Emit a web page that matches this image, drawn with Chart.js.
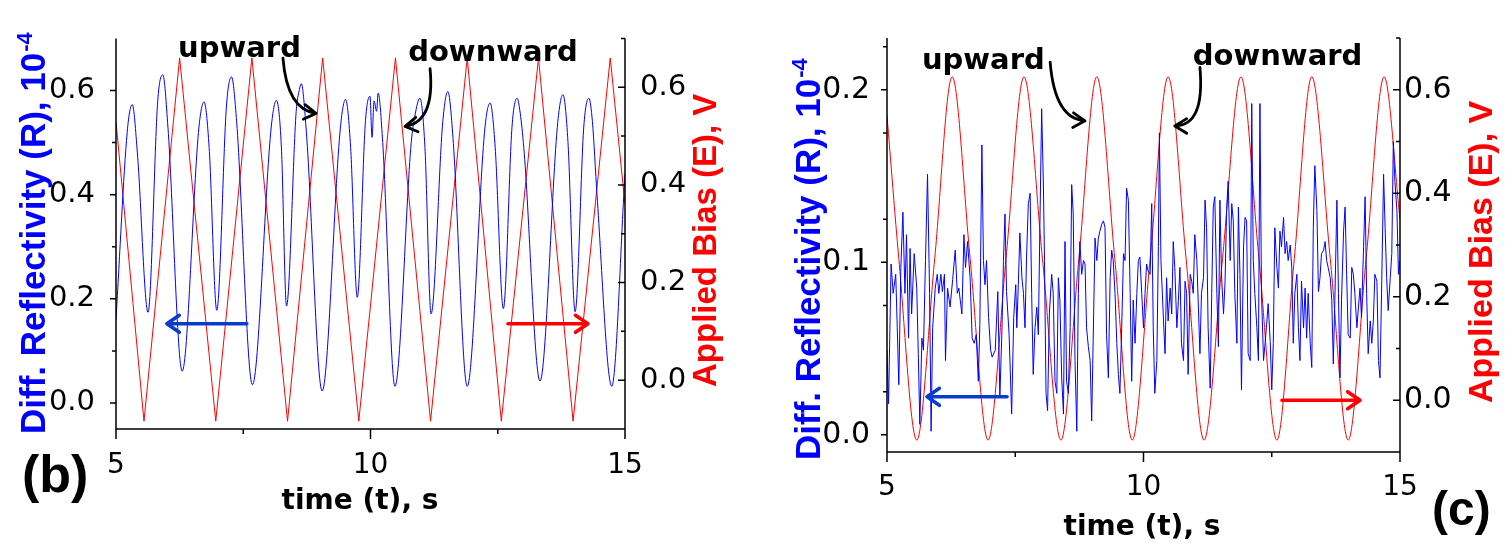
<!DOCTYPE html>
<html>
<head>
<meta charset="utf-8">
<script src="https://cdn.jsdelivr.net/npm/chart.js@4.4.0/dist/chart.umd.min.js"></script>
<style>
    html, body { margin: 0; padding: 0; background: #fff; overflow: hidden; }
    #wrap { position: relative; width: 1507px; height: 543px; }
    canvas { position: absolute; top: 0; }
    #chartB { left: 0; }
    #chartC { left: 750px; }
</style>
</head>
<body>
<div id="wrap">
    <canvas id="chartB" width="750" height="543"></canvas>
    <canvas id="chartC" width="757" height="543"></canvas>
</div>
<script>
// Axis ticks
const timeTicks = [5, 10, 15];
const timeMinor = [7.5, 12.5];
const reflTicksB = [0.0, 0.2, 0.4, 0.6];
const reflMinorB = [0.1, 0.3, 0.5];
const reflTicksC = [0.0, 0.1, 0.2];
const reflMinorC = [0.025, 0.075, 0.125, 0.175, 0.225];
const biasTicks = [0.0, 0.2, 0.4, 0.6];
const biasMinor = [0.1, 0.3, 0.5, 0.7];

// Panel (b): [time s, value]
const reflB = [
    [5.00,0.16],
    [5.22,0.52],[5.32,0.573],[5.42,0.48],
    [5.63,0.174],
    [5.82,0.58],[5.92,0.630],[6.02,0.53],
    [6.30,0.061],
    [6.63,0.53],[6.73,0.578],[6.83,0.49],
    [6.98,0.178],
    [7.17,0.57],[7.27,0.626],[7.37,0.54],
    [7.68,0.035],
    [8.05,0.53],[8.15,0.581],[8.25,0.49],
    [8.35,0.186],
    [8.54,0.56],[8.60,0.60],[8.64,0.613],[8.74,0.52],
    [9.05,0.023],
    [9.41,0.53],[9.51,0.583],[9.61,0.49],
    [9.74,0.203],
    [9.90,0.54],[9.99,0.589],[10.03,0.51],[10.07,0.58],[10.12,0.56],[10.15,0.595],[10.24,0.50],
    [10.48,0.032],
    [10.80,0.50],[10.87,0.55],[10.97,0.585],[11.07,0.49],
    [11.19,0.171],
    [11.42,0.54],[11.52,0.598],[11.62,0.51],
    [11.90,0.032],
    [12.25,0.53],[12.35,0.576],[12.45,0.49],
    [12.61,0.181],
    [12.78,0.53],[12.88,0.585],[12.95,0.55],[13.02,0.48],
    [13.33,0.042],
    [13.68,0.54],[13.78,0.592],[13.88,0.50],
    [14.02,0.175],
    [14.19,0.53],[14.29,0.585],[14.36,0.54],[14.45,0.40],
    [14.74,0.032],
    [15.00,0.44]
];
const biasB = [
    [5.00,0.53],[5.55,-0.084],[6.25,0.66],[6.96,-0.084],[7.67,0.66],[8.37,-0.084],
    [9.06,0.66],[9.77,-0.084],[10.49,0.66],[11.18,-0.084],[11.90,0.66],[12.57,-0.084],
    [13.30,0.66],[13.98,-0.084],[14.71,0.66],[15.00,0.36]
];

// Panel (c): [time s, value]
const reflC = [
    [5.00,0.049],[5.03,0.018],[5.08,0.099],[5.12,0.082],[5.17,0.093],[5.20,0.062],[5.23,0.029],[5.27,0.097],
    [5.31,0.129],[5.35,0.082],[5.38,0.116],[5.42,0.056],[5.45,0.108],[5.48,0.070],[5.53,0.105],[5.58,0.085],
    [5.61,0.047],[5.64,0.006],[5.68,0.056],[5.71,0.049],[5.75,0.101],[5.79,0.151],[5.83,0.082],[5.86,0.002],
    [5.89,0.062],[5.94,0.085],[5.98,0.093],[6.01,0.082],[6.05,0.093],[6.08,0.083],[6.12,0.093],[6.14,0.043],
    [6.18,0.085],[6.23,0.074],[6.28,0.090],[6.33,0.107],[6.37,0.082],[6.40,0.085],[6.46,0.070],[6.50,0.116],
    [6.53,0.097],[6.57,0.112],[6.62,0.091],[6.66,0.056],[6.70,0.053],[6.74,0.058],[6.78,0.031],[6.81,0.064],
    [6.85,0.168],[6.88,0.101],[6.91,0.087],[6.94,0.101],[6.98,0.068],[7.02,0.049],[7.05,0.045],[7.11,0.049],
    [7.16,0.083],[7.20,0.022],[7.24,0.060],[7.27,0.101],[7.30,0.128],[7.33,0.083],[7.38,0.058],[7.43,0.012],
    [7.47,0.068],[7.51,0.087],
    [7.53,0.062],[7.56,0.087],[7.59,0.117],[7.63,0.091],[7.66,0.082],[7.69,0.062],[7.72,0.103],[7.755,0.134],
    [7.79,0.140],[7.82,0.082],[7.85,0.035],[7.885,0.062],[7.92,0.074],[7.95,0.058],[7.98,0.120],[8.015,0.189],
    [8.05,0.143],[8.07,0.101],[8.10,0.024],[8.13,0.014],[8.165,0.070],[8.21,0.093],[8.24,0.082],[8.275,0.031],
    [8.31,0.024],[8.34,0.091],[8.37,0.078],[8.405,0.033],[8.44,0.012],[8.47,0.112],[8.50,0.031],[8.535,0.024],
    [8.57,0.062],[8.60,0.145],[8.63,0.128],[8.665,0.043],[8.70,0.002],[8.73,0.082],[8.76,0.112],[8.795,0.093],
    [8.83,0.101],[8.86,0.099],[8.89,0.062],[8.925,0.051],[8.96,0.043],[8.99,0.008],[9.02,0.056],[9.055,0.114],
    [9.09,0.101],[9.12,0.114],[9.15,0.118],[9.185,0.122],[9.22,0.124],[9.25,0.120],[9.28,0.058],[9.315,0.033],
    [9.35,0.091],[9.38,0.107],[9.41,0.101],[9.445,0.082],[9.48,0.053],[9.51,0.035],[9.54,0.024],[9.575,0.062],
    [9.61,0.105],[9.64,0.101],[9.67,0.143],[9.705,0.136],[9.74,0.082],[9.77,0.031],[9.80,0.078],[9.835,0.053],
    [9.87,0.082],[9.90,0.101],[9.93,0.103],[9.965,0.082],[10.00,0.062],
    [10.03,0.082],[10.06,0.099],[10.09,0.095],[10.13,0.093],[10.16,0.134],[10.19,0.062],[10.22,0.024],[10.26,0.043],
    [10.29,0.109],[10.31,0.175],[10.34,0.101],[10.39,0.066],[10.42,0.047],[10.45,0.091],[10.48,0.066],[10.52,0.085],
    [10.55,0.070],[10.58,0.112],[10.61,0.097],[10.65,0.062],[10.68,0.078],[10.71,0.097],[10.74,0.053],[10.78,0.043],
    [10.81,0.089],[10.84,0.082],[10.87,0.035],[10.91,0.093],[10.94,0.089],[10.97,0.082],[11.00,0.116],[11.04,0.101],
    [11.07,0.074],[11.10,0.047],[11.13,0.082],[11.17,0.091],[11.20,0.136],[11.23,0.120],[11.26,0.062],[11.30,0.027],
    [11.33,0.082],[11.36,0.132],[11.39,0.138],[11.43,0.082],[11.46,0.051],[11.49,0.136],[11.52,0.093],[11.56,0.070],
    [11.59,0.089],[11.62,0.130],[11.65,0.147],[11.69,0.101],[11.72,0.134],[11.75,0.124],[11.78,0.082],[11.82,0.053],
    [11.85,0.132],[11.88,0.093],[11.91,0.026],[11.95,0.109],[11.98,0.126],[12.01,0.124],[12.04,0.047],[12.08,0.043],
    [12.11,0.192],[12.14,0.101],[12.17,0.082],[12.21,0.062],[12.24,0.043],[12.27,0.192],[12.30,0.082],[12.34,0.043],
    [12.37,0.053],[12.40,0.064],[12.43,0.076],[12.47,0.054],[12.50,0.026],[12.53,0.053],[12.56,0.120],
    [12.60,0.097],[12.63,0.085],[12.66,0.118],[12.69,0.109],[12.73,0.126],[12.76,0.105],[12.79,0.112],[12.82,0.101],
    [12.86,0.110],[12.89,0.097],[12.92,0.053],[12.95,0.082],[12.99,0.093],[13.02,0.062],[13.05,0.043],[13.08,0.089],
    [13.12,0.062],[13.15,0.085],[13.18,0.056],[13.21,0.082],[13.25,0.053],[13.28,0.039],[13.31,0.120],[13.34,0.156],
    [13.38,0.130],[13.41,0.083],[13.44,0.091],[13.47,0.105],[13.51,0.107],[13.54,0.112],[13.57,0.101],[13.60,0.097],
    [13.64,0.091],[13.67,0.078],[13.70,0.041],[13.73,0.078],[13.77,0.136],[13.80,0.082],[13.83,0.033],[13.86,0.078],
    [13.90,0.118],[13.93,0.132],[13.96,0.093],[13.99,0.058],[14.03,0.056],[14.06,0.097],[14.09,0.093],[14.12,0.082],
    [14.16,0.062],[14.19,0.074],[14.22,0.085],[14.25,0.068],[14.29,0.109],[14.32,0.138],[14.35,0.082],[14.38,0.047],
    [14.42,0.066],[14.45,0.053],[14.48,0.066],[14.51,0.093],[14.55,0.089],[14.58,0.043],[14.61,0.033],[14.64,0.082],
    [14.68,0.151],[14.71,0.120],[14.74,0.091],[14.77,0.072],[14.81,0.091],[14.84,0.105],[14.87,0.170],[14.90,0.147],
    [14.94,0.130],[14.97,0.093],[15.00,0.101]
];
const biasC = [
    [5.00,0.55],[5.23,0.274],[5.58,-0.077],[5.93,0.274],[6.27,0.625],[6.62,0.274],[6.97,-0.077],[7.32,0.274],
    [7.67,0.625],[8.03,0.274],[8.39,-0.077],[8.74,0.274],[9.09,0.625],[9.44,0.274],[9.78,-0.077],[10.13,0.274],
    [10.48,0.625],[10.83,0.274],[11.18,-0.077],[11.54,0.274],[11.90,0.625],[12.25,0.274],[12.60,-0.077],[12.94,0.274],
    [13.28,0.625],[13.64,0.274],[13.99,-0.077],[14.34,0.274],[14.69,0.625],[15.00,0.35]
];

const BLUE = '#0000ff';
const RED = '#ff0000';

// b: triangle bias, smooth-ish reflectivity; c: smooth bias, jagged reflectivity
const panelB = {
    canvas: 'chartB', refl: reflB, bias: biasB, reflMode: 'monotone', biasMode: 'default',
    reflMin: -0.05, reflMax: 0.7, reflTicks: reflTicksB, reflMinor: reflMinorB,
    leftW: 116, rightW: 125, bottomH: 114, topPad: 17,
    leftPad: 21, rightPad: 15, xPad: 20, yFont: 29,
    titleL: { x: 45, y: 434, size: 35 },
    titleR: { x: 716, y: 387, size: 33 },
    titleX: { x: 360, y: 509 },
    letter: { text: '(b)', x: 22, y: 492, size: 52 },
    notes: [
        { text: 'upward', t: 6.22, v: 0.665 },
        { text: 'downward', t: 10.74, v: 0.656 }
    ],
    curves: [
        { from: [8.28, 0.662], ctrl: [8.36, 0.563], to: [8.93, 0.556] },
        { from: [11.17, 0.642], ctrl: [11.27, 0.540], to: [10.68, 0.531] }
    ],
    hArrows: [
        { from: 7.57, to: 6.0, v: 0.152, color: '#0a3ccc' },
        { from: 12.70, to: 14.27, v: 0.152, color: RED }
    ]
};

const panelC = {
    canvas: 'chartC', refl: reflC, bias: biasC, reflMode: 'default', biasMode: 'monotone',
    reflMin: -0.01, reflMax: 0.23, reflTicks: reflTicksC, reflMinor: reflMinorC,
    leftW: 137, rightW: 107, bottomH: 91, topPad: 38,
    leftPad: 17, rightPad: 4, xPad: 19, yFont: 30,
    titleL: { x: 70, y: 460, size: 35 },
    titleR: { x: 742, y: 403, size: 34 },
    titleX: { x: 392, y: 535 },
    letter: { text: '(c)', x: 682, y: 525, size: 48 },
    notes: [
        { text: 'upward', t: 5.68, v: 0.212 },
        { text: 'downward', t: 10.96, v: 0.2145 }
    ],
    curves: [
        { from: [8.18, 0.216], ctrl: [8.27, 0.183], to: [8.86, 0.182] },
        { from: [11.10, 0.213], ctrl: [11.20, 0.179], to: [10.61, 0.179] }
    ],
    hArrows: [
        { from: 7.34, to: 5.78, v: 0.022, color: '#0a3ccc' },
        { from: 12.70, to: 14.22, v: 0.020, color: RED }
    ]
};

function chevron(ctx, x, y, ang, len, spread) {
    ctx.moveTo(x - len * Math.cos(ang - spread), y - len * Math.sin(ang - spread));
    ctx.lineTo(x, y);
    ctx.lineTo(x - len * Math.cos(ang + spread), y - len * Math.sin(ang + spread));
}

function vText(ctx, txt, x, y, font, color) {
    ctx.save();
    ctx.translate(x, y);
    ctx.rotate(-Math.PI / 2);
    ctx.font = font;
    ctx.fillStyle = color;
    ctx.textAlign = 'left';
    ctx.textBaseline = 'alphabetic';
    ctx.fillText(txt, 0, 0);
    const w = ctx.measureText(txt).width;
    ctx.restore();
    return w;
}

// Axis lines, tick marks, titles and notes
function framePlugin(p) {
    return {
        id: 'frame',
        afterDatasetsDraw(chart) {
            const ctx = chart.ctx;
            const a = chart.chartArea;
            const sx = chart.scales.x, yL = chart.scales.yL, yR = chart.scales.yR;
            const X = t => sx.getPixelForValue(t);
            const Y = v => yL.getPixelForValue(v);

            ctx.save();
            ctx.strokeStyle = '#000';
            ctx.lineWidth = 1.5;
            ctx.beginPath();
            ctx.moveTo(a.left, a.top);
            ctx.lineTo(a.left, a.bottom);
            ctx.lineTo(a.right, a.bottom);
            ctx.lineTo(a.right, a.top);
            timeTicks.forEach(t => { ctx.moveTo(X(t), a.bottom); ctx.lineTo(X(t), a.bottom + 10); });
            timeMinor.forEach(t => { ctx.moveTo(X(t), a.bottom); ctx.lineTo(X(t), a.bottom + 5); });
            p.reflTicks.forEach(v => { ctx.moveTo(a.left - 6, Y(v)); ctx.lineTo(a.left, Y(v)); });
            p.reflMinor.forEach(v => { ctx.moveTo(a.left - 4, Y(v)); ctx.lineTo(a.left, Y(v)); });
            biasTicks.forEach(v => { const y = yR.getPixelForValue(v); ctx.moveTo(a.right - 7, y); ctx.lineTo(a.right, y); });
            biasMinor.forEach(v => { const y = yR.getPixelForValue(v); ctx.moveTo(a.right - 4, y); ctx.lineTo(a.right, y); });
            ctx.stroke();

            // axis titles
            const w = vText(ctx, 'Diff. Reflectivity (R), 10', p.titleL.x, p.titleL.y,
                'bold ' + p.titleL.size + 'px "Liberation Sans"', BLUE);
            vText(ctx, '-4', p.titleL.x - 13, p.titleL.y - w - 1, 'bold 22px "Liberation Sans"', BLUE);
            vText(ctx, 'Applied Bias (E), V', p.titleR.x, p.titleR.y,
                'bold ' + p.titleR.size + 'px "Liberation Sans"', RED);

            ctx.fillStyle = '#000';
            ctx.textBaseline = 'alphabetic';
            ctx.textAlign = 'center';
            ctx.font = 'bold 28px "DejaVu Sans"';
            ctx.fillText('time (t), s', p.titleX.x, p.titleX.y);
            ctx.textAlign = 'left';
            ctx.font = 'bold ' + p.letter.size + 'px "Liberation Sans"';
            ctx.fillText(p.letter.text, p.letter.x, p.letter.y);

            // annotations
            ctx.font = 'bold 29px "DejaVu Sans"';
            p.notes.forEach(n => ctx.fillText(n.text, X(n.t), Y(n.v)));

            ctx.lineWidth = 2.8;
            ctx.lineCap = 'round';
            ctx.lineJoin = 'round';
            p.curves.forEach(c => {
                const x0 = X(c.from[0]), y0 = Y(c.from[1]);
                const cx = X(c.ctrl[0]), cy = Y(c.ctrl[1]);
                const x1 = X(c.to[0]), y1 = Y(c.to[1]);
                ctx.beginPath();
                ctx.moveTo(x0, y0);
                ctx.quadraticCurveTo(cx, cy, x1, y1);
                chevron(ctx, x1, y1, Math.atan2(y1 - cy, x1 - cx), 14, 0.55);
                ctx.stroke();
            });

            ctx.lineWidth = 3.6;
            p.hArrows.forEach(h => {
                const x0 = X(h.from), x1 = X(h.to), y = Y(h.v);
                ctx.strokeStyle = h.color;
                ctx.beginPath();
                ctx.moveTo(x0, y);
                ctx.lineTo(x1, y);
                chevron(ctx, x1, y, x1 < x0 ? Math.PI : 0, 15, 0.6);
                ctx.stroke();
            });
            ctx.restore();
        }
    };
}

function toPoints(arr) {
    return arr.map(d => ({ x: d[0], y: d[1] }));
}

function makePanel(p) {
    const ctx = document.getElementById(p.canvas).getContext('2d');
    return new Chart(ctx, {
        type: 'line',
        data: {
            datasets: [{
                label: 'R',
                data: toPoints(p.refl),
                yAxisID: 'yL',
                borderColor: BLUE,
                borderWidth: 1,
                pointRadius: 0,
                tension: 0,
                cubicInterpolationMode: p.reflMode
            }, {
                label: 'E',
                data: toPoints(p.bias),
                yAxisID: 'yR',
                borderColor: RED,
                borderWidth: 1,
                pointRadius: 0,
                tension: 0,
                cubicInterpolationMode: p.biasMode
            }]
        },
        options: {
            responsive: false,
            animation: false,
            events: [],
            layout: { padding: { top: p.topPad, left: 0, right: 0, bottom: 0 } },
            plugins: { legend: { display: false }, tooltip: { enabled: false } },
            scales: {
                x: {
                    type: 'linear',
                    min: 5, max: 15,
                    afterBuildTicks: s => { s.ticks = timeTicks.map(v => ({ value: v })); },
                    afterFit: s => { s.height = p.bottomH; },
                    grid: { display: false, drawTicks: false },
                    border: { display: false },
                    ticks: {
                        autoSkip: false, maxRotation: 0, padding: p.xPad, color: '#000',
                        font: { family: 'DejaVu Sans', size: 28 },
                        callback: v => String(v)
                    }
                },
                yL: {
                    type: 'linear', position: 'left',
                    min: p.reflMin, max: p.reflMax,
                    afterBuildTicks: s => { s.ticks = p.reflTicks.map(v => ({ value: v })); },
                    afterFit: s => { s.width = p.leftW; },
                    grid: { display: false, drawTicks: false },
                    border: { display: false },
                    ticks: {
                        autoSkip: false, padding: p.leftPad, color: '#000',
                        font: { family: 'DejaVu Sans', size: p.yFont },
                        callback: v => v.toFixed(1)
                    }
                },
                yR: {
                    type: 'linear', position: 'right',
                    min: -0.1, max: 0.7,
                    afterBuildTicks: s => { s.ticks = biasTicks.map(v => ({ value: v })); },
                    afterFit: s => { s.width = p.rightW; },
                    grid: { display: false, drawTicks: false },
                    border: { display: false },
                    ticks: {
                        autoSkip: false, padding: p.rightPad, color: '#000',
                        font: { family: 'DejaVu Sans', size: p.yFont },
                        callback: v => v.toFixed(1)
                    }
                }
            }
        },
        plugins: [framePlugin(p)]
    });
}

makePanel(panelB);
makePanel(panelC);
</script>
</body>
</html>
